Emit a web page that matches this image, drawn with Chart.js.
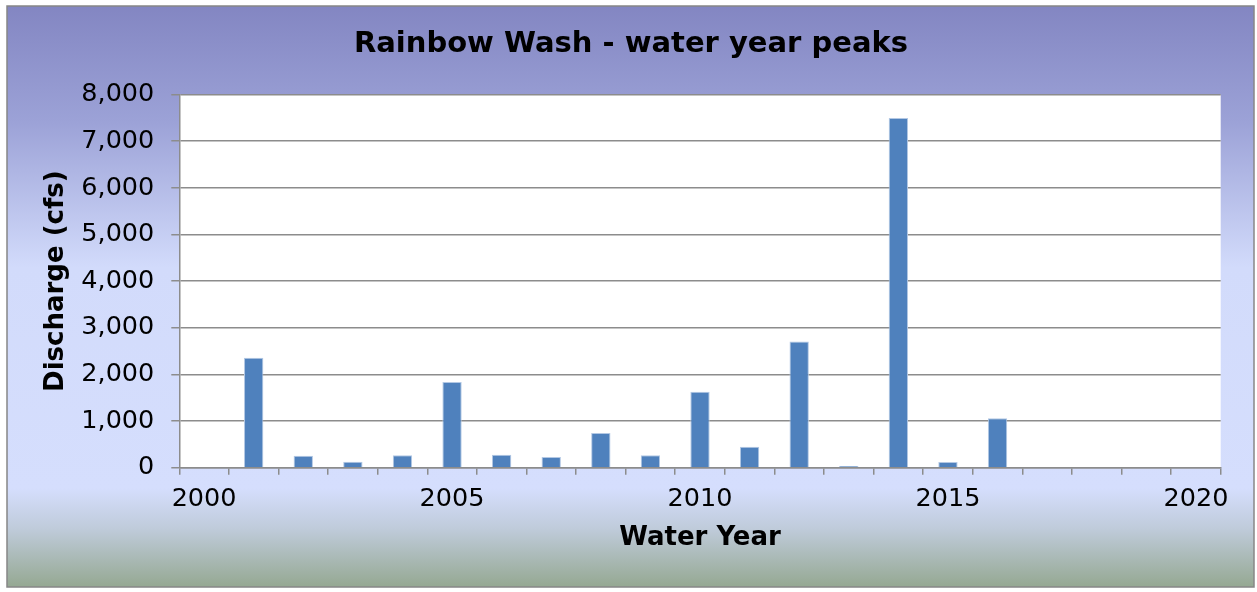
<!DOCTYPE html>
<html>
<head>
<meta charset="utf-8">
<script src="https://cdn.jsdelivr.net/npm/chart.js@4.4.1/dist/chart.umd.min.js"></script>
<style>
  html, body { margin: 0; padding: 0; background: #ffffff; }
  #wrap { width: 1257px; height: 592px; }
</style>
</head>
<body>
<div id="wrap"><canvas id="c" width="1257" height="592"></canvas></div>
<script>
// ---- data ----
const categories = ['2000','2001','2002','2003','2004','2005','2006','2007','2008','2009','2010',
                    '2011','2012','2013','2014','2015','2016','2017','2018','2019','2020'];
const peakDischarge = [null, 2355, 255, 125, 265, 1835, 275, 232, 745, 265, 1630,
                       450, 2705, 38, 7500, 120, 1060, null, null, null, null];
const yTicks = [0, 1000, 2000, 3000, 4000, 5000, 6000, 7000, 8000];
const labelEvery = 5;

const FONT = 'DejaVu Sans';

const bgPlugin = {
  id: 'bg',
  beforeDraw(chart) {
    const ctx = chart.ctx;
    const x0 = 7, y0 = 6, x1 = 1254, y1 = 587;
    ctx.save();
    ctx.fillStyle = '#ffffff';
    ctx.fillRect(0, 0, chart.width, chart.height);
    const g = ctx.createLinearGradient(0, y0, 0, y1);
    g.addColorStop(0.0, '#8386c2');
    g.addColorStop(0.2, '#9ca2d7');
    g.addColorStop(0.45, '#d2dbfb');
    g.addColorStop(0.83, '#d5defd');
    g.addColorStop(0.9, '#bfcbda');
    g.addColorStop(1.0, '#95a892');
    ctx.fillStyle = g;
    ctx.fillRect(x0, y0, x1 - x0, y1 - y0);
    ctx.strokeStyle = '#878787';
    ctx.lineWidth = 1.5;
    ctx.strokeRect(x0, y0, x1 - x0, y1 - y0);
    const a = chart.chartArea;
    ctx.fillStyle = '#ffffff';
    ctx.fillRect(a.left, a.top, a.right - a.left, a.bottom - a.top);
    ctx.restore();
  }
};

new Chart(document.getElementById('c'), {
  type: 'bar',
  data: {
    labels: categories,
    datasets: [{
      data: peakDischarge,
      backgroundColor: '#4f81bd',
      borderColor: '#b3c8e4',
      borderWidth: 1,
      barPercentage: 0.39,
      categoryPercentage: 1.0,
      yAxisID: 'y'
    }]
  },
  plugins: [bgPlugin],
  options: {
    responsive: false,
    devicePixelRatio: 1,
    animation: false,
    layout: { padding: { left: 7, right: 2, top: 6, bottom: 5 } },
    plugins: {
      legend: { display: false },
      tooltip: { enabled: false },
      title: {
        display: true,
        text: 'Rainbow Wash - water year peaks',
        color: '#000000',
        font: { family: FONT, size: 29, weight: 'bold' },
        padding: { top: 21, bottom: 32.8 }
      }
    },
    scales: {
      x: {
        type: 'category',
        offset: true,
        grid: {
          offset: true,
          drawOnChartArea: false,
          drawTicks: true,
          tickLength: 7,
          color: '#8c8c8c',
          lineWidth: 1.5
        },
        border: { display: true, color: '#8c8c8c', width: 1.5 },
        ticks: {
          autoSkip: false,
          maxRotation: 0,
          minRotation: 0,
          padding: 9,
          color: '#000000',
          font: { family: FONT, size: 25.5 },
          callback: function (val, idx) {
            return idx % labelEvery === 0 ? categories[idx] : '';
          }
        },
        title: {
          display: true,
          text: 'Water Year',
          color: '#000000',
          font: { family: FONT, size: 26, weight: 'bold' },
          padding: { top: 8, bottom: 33.4 }
        },
        afterFit(scale) { scale.height = 119.3; }
      },
      y: {
        min: 0,
        max: 8000,
        afterBuildTicks(scale) { scale.ticks = yTicks.map(v => ({ value: v })); },
        grid: {
          drawTicks: true,
          tickLength: 8,
          color: '#8c8c8c',
          lineWidth: 1.5
        },
        border: { display: true, color: '#8c8c8c', width: 1.5 },
        ticks: {
          padding: 17,
          color: '#000000',
          font: { family: FONT, size: 25.5 },
          callback: v => v.toLocaleString('en-US')
        },
        title: {
          display: true,
          text: 'Discharge (cfs)',
          color: '#000000',
          font: { family: FONT, size: 26, weight: 'bold' },
          padding: { top: 33.4, bottom: 0 }
        },
        afterFit(scale) { scale.width = 172.3; }
      },
      spacer: {
        type: 'linear',
        position: 'right',
        display: true,
        grid: { display: false, drawTicks: false },
        border: { display: false },
        ticks: { display: false },
        title: { display: false },
        afterFit(scale) { scale.width = 34.3; }
      }
    }
  }
});
</script>
</body>
</html>
